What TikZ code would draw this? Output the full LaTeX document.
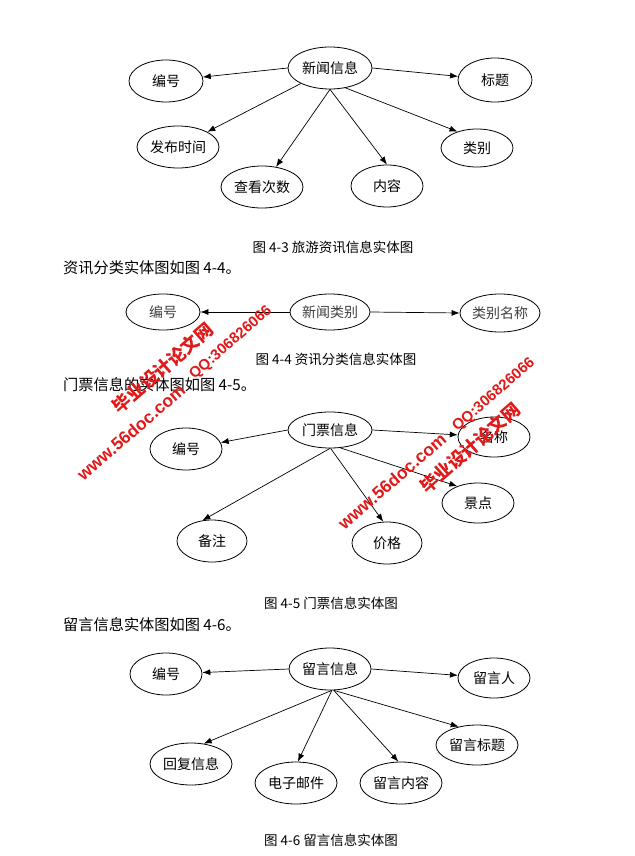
\documentclass[tikz,border=0pt]{standalone}
\usepackage{fontspec}
\setmainfont{Noto Sans CJK SC}
\newfontfamily\wmlat{Liberation Sans}
\usetikzlibrary{shapes.geometric,arrows.meta}
\definecolor{wmred}{RGB}{225,25,25}
\tikzset{
  ent/.style={draw, ellipse, inner sep=0pt, line width=0.8pt, font=\fontsize{14}{16}\selectfont},
  esz/.style 2 args={minimum width=#1pt, minimum height=#2pt},
  rel/.style={-{Latex[length=8pt,width=6pt]}, line width=0.7pt},
  captxt/.style={font=\fontsize{13.5}{15}\selectfont, inner sep=0pt},
  bodyline/.style={font=\fontsize{15.2}{17}\selectfont, anchor=west, inner sep=0pt},
  wmcn/.style={text=wmred, rotate=41, inner sep=0pt, font=\fontsize{18}{20}\selectfont\bfseries},
  wmurl/.style={text=wmred, rotate=41, inner sep=0pt, font=\wmlat\fontsize{17.5}{20}\selectfont\bfseries},
  wmqq/.style={text=wmred, rotate=41, inner sep=0pt, font=\wmlat\fontsize{15}{18}\selectfont\bfseries}
}
\begin{document}
\begin{tikzpicture}[x=1pt,y=-1pt]
\path[use as bounding box, fill=white] (0,0) rectangle (634,856);

% ---------- Figure 4-3 ----------
\node[ent, esz={84}{42}] (c1) at (330,68) {新闻信息};
\node[ent, esz={74}{42}] (b1) at (166,81) {编号};
\node[ent, esz={74}{44}] (t1) at (495,80) {标题};
\node[ent, esz={82}{42}] (f1) at (178,147) {发布时间};
\node[ent, esz={72}{38}] (l1) at (477,148) {类别};
\node[ent, esz={82}{42}] (k1) at (262,187) {查看次数};
\node[ent, esz={72}{42}] (n1) at (387,186) {内容};
\draw[rel] (c1.west) -- (b1);
\draw[rel] (c1.east) -- (t1);
\draw[rel] (c1.208) -- (f1);
\draw[rel] (c1.south) -- (k1);
\draw[rel] (c1.south) -- (n1.north);
\draw[rel] (c1.-52) -- (l1.140);
\node[captxt] (cap1) at (333,247) {图 4-3 旅游资讯信息实体图};

% ---------- Figure 4-4 ----------
\node[bodyline] (txt2) at (63,268) {资讯分类实体图如图 4-4。};
\node[ent, esz={80}{36}, text=black!75] (c2) at (330,312) {新闻类别};
\node[ent, esz={74}{36}, text=black!75] (b2) at (163,312) {编号};
\node[ent, esz={80}{38}, text=black!75] (m2) at (500,313) {类别名称};
\draw[rel] (c2.west) -- (b2.east);
\draw[rel] (c2.east) -- (m2.west);
\node[captxt] (cap2) at (336,359) {图 4-4 资讯分类信息实体图};

% ---------- Figure 4-5 ----------
\node[bodyline] (txt3) at (63,385) {门票信息的实体图如图 4-5。};
\node[ent, esz={84}{36}] (c3) at (330,430) {门票信息};
\node[ent, esz={72}{42}] (b3) at (186,449) {编号};
\node[ent, esz={72}{40}] (mc3) at (494,437) {名称};
\node[ent, esz={72}{40}] (jd3) at (478,503) {景点};
\node[ent, esz={70}{42}] (bz3) at (212,541) {备注};
\node[ent, esz={70}{42}] (jg3) at (387,543) {价格};
\draw[rel] (c3.west) -- (b3);
\draw[rel] (c3.east) -- (mc3);
\draw[rel] (c3.-60) -- (jd3.141);
\draw[rel] (c3.south) -- (bz3.115);
\draw[rel] (c3.-88) -- (jg3.100);
\node[captxt] (cap3) at (331,603) {图 4-5 门票信息实体图};

% ---------- Figure 4-6 ----------
\node[bodyline] (txt4) at (63,625) {留言信息实体图如图 4-6。};
\node[ent, esz={82}{42}] (c4) at (330,669) {留言信息};
\node[ent, esz={72}{42}] (b4) at (166,674) {编号};
\node[ent, esz={72}{40}] (lr4) at (494,678) {留言人};
\node[ent, esz={82}{40}] (bt4) at (477,745) {留言标题};
\node[ent, esz={82}{42}] (hf4) at (191,764) {回复信息};
\node[ent, esz={82}{42}] (yj4) at (296,783) {电子邮件};
\node[ent, esz={82}{42}] (nr4) at (401,783) {留言内容};
\draw[rel] (c4.west) -- (b4);
\draw[rel] (c4.east) -- (lr4);
\draw[rel] (c4.-80) -- (bt4.135);
\draw[rel] (c4.-85) -- (hf4.58);
\draw[rel] (c4.-85) -- (yj4.85);
\draw[rel] (c4.-80) -- (nr4.97);
\node[captxt] (cap4) at (331,840) {图 4-6 留言信息实体图};

% ---------- watermarks ----------
\node[wmcn] (wm1cn) at (163,368) {毕业设计论文网};
\node[wmurl] (wm1url) at (131,432) {www.56doc.com};
\node[wmqq] (wm1qq) at (231,343) {QQ:306826066};
\node[wmurl] (wm2url) at (392,481) {www.56doc.com};
\node[wmqq] (wm2qq) at (494,395) {QQ:306826066};
\node[wmcn] (wm2cn) at (470,448) {毕业设计论文网};
\end{tikzpicture}
\end{document}
